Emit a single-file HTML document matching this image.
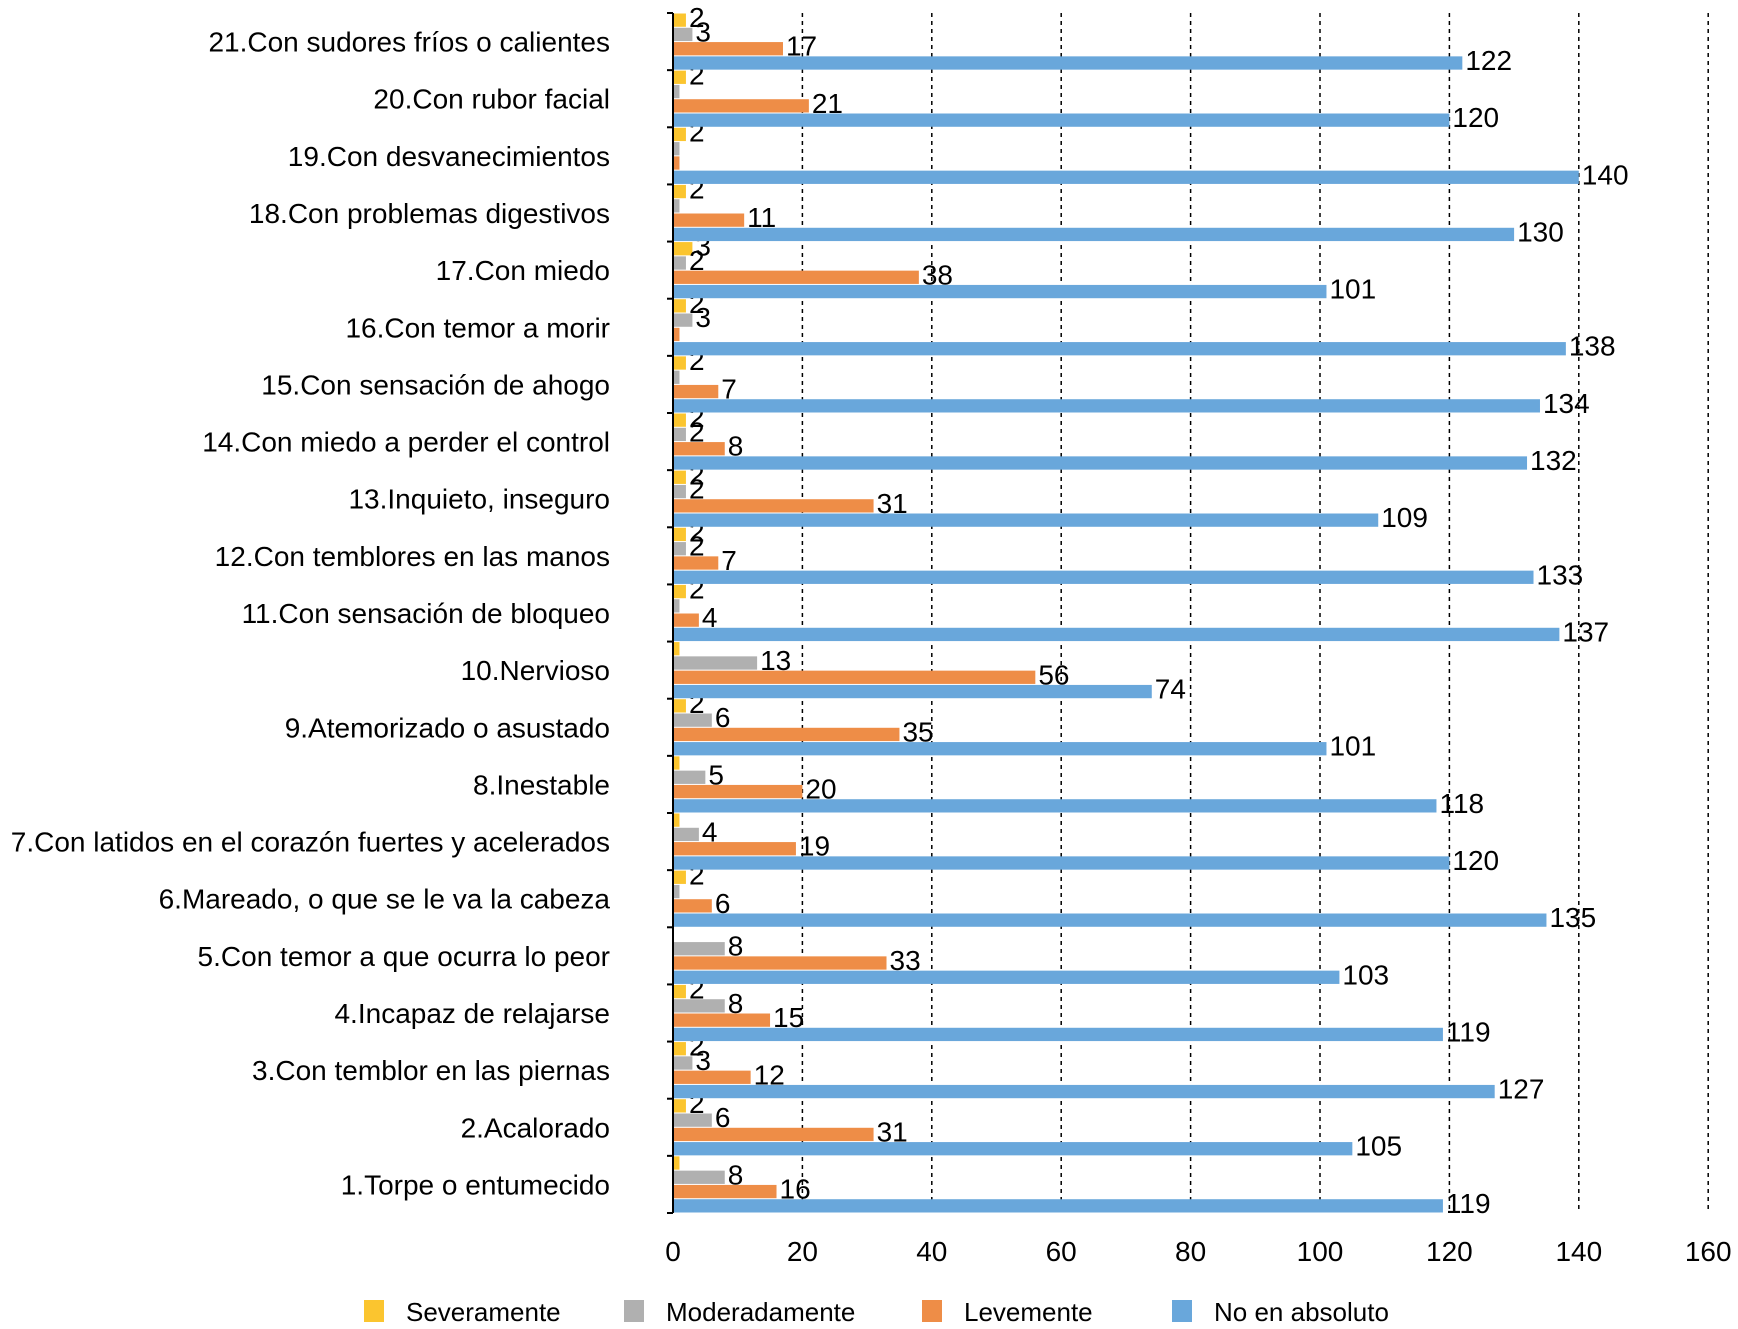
<!DOCTYPE html>
<html><head><meta charset="utf-8"><style>
body{margin:0;background:#fff;}
svg{display:block;font-family:"Liberation Sans",Arial,sans-serif;}
</style></head><body>
<svg id="c" width="1738" height="1329"></svg>
<script>
const categories=["1.Torpe o entumecido","2.Acalorado","3.Con temblor en las piernas","4.Incapaz de relajarse","5.Con temor a que ocurra lo peor","6.Mareado, o que se le va la cabeza","7.Con latidos en el corazón fuertes y acelerados","8.Inestable","9.Atemorizado o asustado","10.Nervioso","11.Con sensación de bloqueo","12.Con temblores en las manos","13.Inquieto, inseguro","14.Con miedo a perder el control","15.Con sensación de ahogo","16.Con temor a morir","17.Con miedo","18.Con problemas digestivos","19.Con desvanecimientos","20.Con rubor facial","21.Con sudores fríos o calientes"];
const severamente=[1,2,2,2,0,2,1,1,2,1,2,2,2,2,2,2,3,2,2,2,2];
const moderadamente=[8,6,3,8,8,1,4,5,6,13,1,2,2,2,1,3,2,1,1,1,3];
const levemente=[16,31,12,15,33,6,19,20,35,56,4,7,31,8,7,1,38,11,1,21,17];
const noAbsoluto=[119,105,127,119,103,135,120,118,101,74,137,133,109,132,134,138,101,130,140,120,122];
const ticks=[0,20,40,60,80,100,120,140,160];
const seriesNames=["Severamente","Moderadamente","Levemente","No en absoluto"];
const colors=["#fbc52f","#b0b0b0","#ee8d47","#69a7db"];
const NS="http://www.w3.org/2000/svg";
const svg=document.getElementById('c');
const X0=673,PX=6.47,TOP=13,BOT=1213,FS=28;
const n=categories.length,band=(BOT-TOP)/n;
const x=v=>X0+v*PX;
const yBand=i=>BOT-(i+1)*band;
function mk(t,a,txt){const e=document.createElementNS(NS,t);for(const k in a)e.setAttribute(k,a[k]);if(txt!==undefined)e.textContent=txt;svg.appendChild(e);return e;}
ticks.forEach(t=>{
 if(t>0){const g=mk('line',{x1:x(t),x2:x(t),y1:TOP,y2:BOT,stroke:'#000','stroke-width':1.5,'stroke-dasharray':'4,4'});
 
 }
 const l=mk('text',{x:x(t),y:1261,'font-size':FS,'text-anchor':'middle',fill:'#000'},t);
 
 
});
const series=[severamente,moderadamente,levemente,noAbsoluto];
categories.forEach((c,i)=>{
 const top=yBand(i);
 const lab=mk('text',{x:610,y:top+band/2+10,'font-size':FS,'text-anchor':'end',fill:'#000'},c);
 
 
 const bh=band/4;
 series.forEach((s,k)=>{
  const v=s[i];const by=top+k*bh;
  if(v>0){const r=mk('rect',{x:X0,y:by+0.5,width:v*PX,height:bh-1,fill:colors[k]});
  
  }
  if(v>=2){const t=mk('text',{x:x(v)+3,y:by+bh/2+7,'font-size':FS,fill:'#000'},v);
  
  }
 });
});
const ax=mk('line',{x1:X0,x2:X0,y1:TOP,y2:BOT,stroke:'#000','stroke-width':2});


for(let i=0;i<=n;i++){const tk=mk('line',{x1:X0-6,x2:X0,y1:TOP+i*band,y2:TOP+i*band,stroke:'#000','stroke-width':2});

}
const lx=[364,624,922,1172];
seriesNames.forEach((nm,k)=>{
 const r=mk('rect',{x:lx[k],y:1300,width:20,height:22,fill:colors[k]});
 
 
 const t=mk('text',{x:lx[k]+42,y:1321,'font-size':26,fill:'#000'},nm);
 
 
});
</script>
</body></html>
